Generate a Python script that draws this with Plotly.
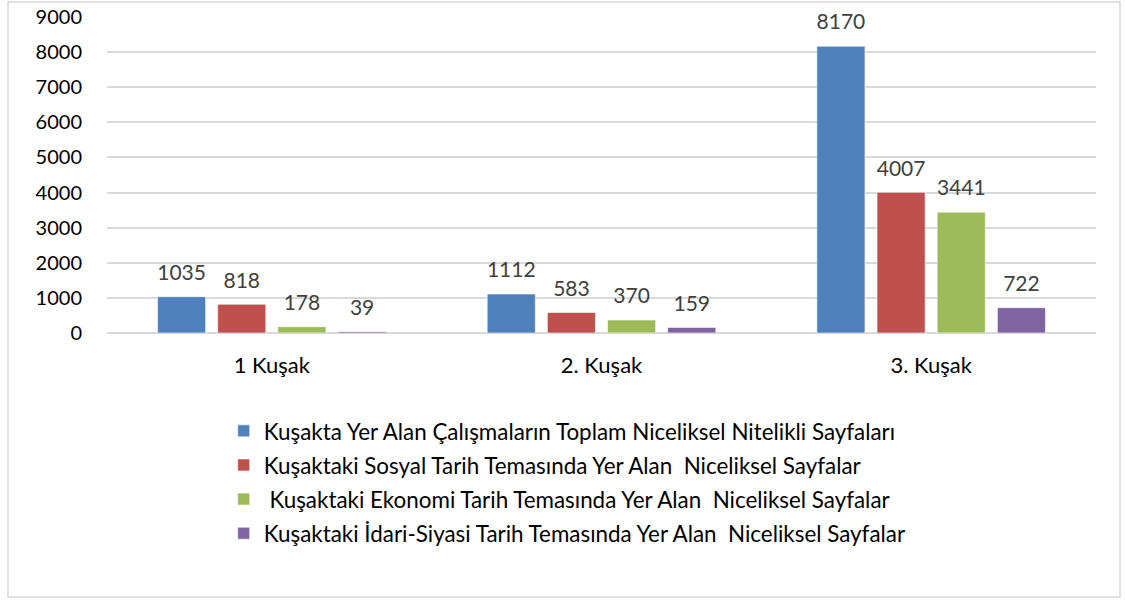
import plotly.graph_objects as go

categories = ["1 Kuşak", "2. Kuşak", "3. Kuşak"]
series_names = [
    "Kuşakta Yer Alan Çalışmaların Toplam Niceliksel Nitelikli Sayfaları",
    "Kuşaktaki Sosyal Tarih Temasında Yer Alan\u00a0\u00a0Niceliksel Sayfalar",
    "\u00a0Kuşaktaki Ekonomi Tarih Temasında Yer Alan\u00a0\u00a0Niceliksel Sayfalar",
    "Kuşaktaki İdari-Siyasi Tarih Temasında Yer Alan\u00a0\u00a0Niceliksel Sayfalar",
]
toplam = [1035, 1112, 8170]
sosyal = [818, 583, 4007]
ekonomi = [178, 370, 3441]
idari = [39, 159, 722]
y_ticks = [0, 1000, 2000, 3000, 4000, 5000, 6000, 7000, 8000, 9000]

colors = ["#4F81BD", "#C0504D", "#9BBB59", "#8064A2"]
FONT = "Lato, Carlito, Calibri, sans-serif"

fig = go.Figure()
for i, (name, vals) in enumerate(zip(series_names, [toplam, sosyal, ekonomi, idari])):
    fig.add_trace(go.Bar(
        x=categories, y=vals, name=name,
        marker=dict(color=colors[i], line=dict(color="rgba(255,255,255,0.6)", width=1)),
        text=[f"<span style='font-size:21px'>{v}</span><br>\u00a0" for v in vals],
        textposition="outside",
        constraintext="none",
        textfont=dict(family=FONT, size=9, color="#404040"),
        cliponaxis=False,
        legendgroup=f"g{i}",
        hoverinfo="skip",
    ))

fig.update_layout(
    width=1125, height=600,
    margin=dict(l=107, r=29, t=17, b=267, autoexpand=False),
    paper_bgcolor="white", plot_bgcolor="white",
    barmode="group", bargap=0.27, bargroupgap=0.2,
    font=dict(family=FONT, size=19, color="#000000"),
    showlegend=True,
    legend=dict(
        orientation="v", x=0.118, xanchor="left", y=-0.243, yanchor="top",
        font=dict(family=FONT, size=22.4, color="#000000"),
        tracegroupgap=2, traceorder="grouped",
        itemwidth=30,
    ),
    shapes=[dict(
        type="rect", xref="paper", yref="paper",
        x0=(8 - 107) / 989, x1=(1120 - 107) / 989,
        y0=(333 - 597) / 316, y1=(333 - 2) / 316,
        line=dict(color="#D9D9D9", width=1.5), fillcolor="rgba(0,0,0,0)", layer="below",
    )],
)
fig.update_xaxes(
    showgrid=False, showline=False, zeroline=False,
    tickfont=dict(family=FONT, size=22, color="#000000"),
    ticks="", ticklabelstandoff=17,
)
fig.update_yaxes(
    range=[0, 9000], tickvals=y_ticks, ticktext=[str(t) for t in y_ticks],
    showgrid=True, gridcolor="#D9D9D9", gridwidth=1.5,
    zeroline=True, zerolinecolor="#D9D9D9", zerolinewidth=1.5,
    showline=False, ticks="", ticklabelstandoff=24,
    tickfont=dict(family=FONT, size=20, color="#000000"),
)

fig.write_html("out.html", config={"displayModeBar": False},
               post_script="document.body.style.margin='0';")
